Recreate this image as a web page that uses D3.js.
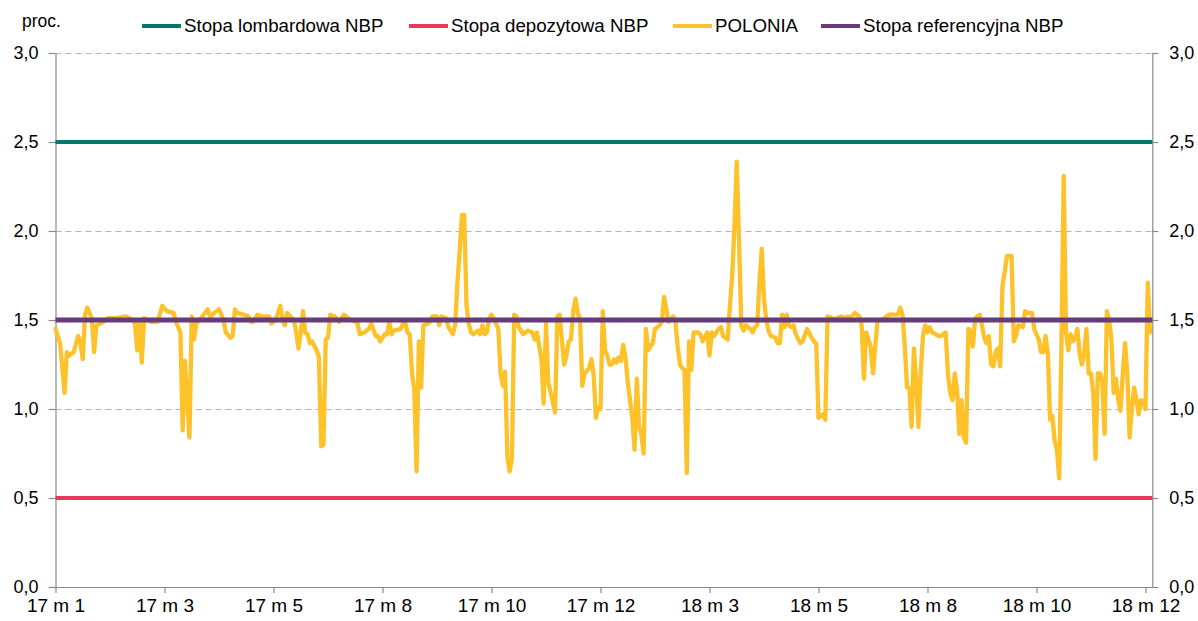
<!DOCTYPE html>
<html>
<head>
<meta charset="utf-8">
<script src="https://cdn.jsdelivr.net/npm/d3@7"></script>
<style>
  html, body { margin: 0; padding: 0; background: #fff; }
  svg text { font-family: "Liberation Sans", Arial, sans-serif; fill: #000; }
</style>
</head>
<body>
<svg id="chart" width="1198" height="621"></svg>
<script>
// ---- data ----
const xTickDays = [0, 48, 96, 144, 192, 240, 288, 336, 384, 432, 480];
const xTickLabels = ["17 m 1", "17 m 3", "17 m 5", "17 m 8", "17 m 10", "17 m 12",
                     "18 m 3", "18 m 5", "18 m 8", "18 m 10", "18 m 12"];
const yTicks = [0, 0.5, 1.0, 1.5, 2.0, 2.5, 3.0];
const seriesNames = ["Stopa lombardowa NBP", "Stopa depozytowa NBP", "POLONIA", "Stopa referencyjna NBP"];
const rateDays = [0, 482];
const lombardRate = [2.5, 2.5];
const depositRate = [0.5, 0.5];
const referenceRate = [1.5, 1.5];
// POLONIA: trading-day index and value (proc.)
const poloniaDays = [0,2,4,5,6,8,10,11,12,13,14,16,17,18,20,23,27,31,34,35,36,37,38,39,42,45,47,49,52,53,55,56,57,59,60,61,62,64,67,68,70,72,74,75,77,78,79,80,83,85,86,87,89,91,94,95,97,99,100,101,102,105,106,107,108,109,110,111,112,113,115,116,117,118,119,120,121,123,125,127,130,131,133,134,136,138,139,141,142,143,145,146,147,148,149,152,153,154,155,156,157,158,159,160,161,162,164,165,166,168,169,170,172,173,175,176,177,178,179,180,181,182,183,184,186,187,188,189,190,191,192,194,195,196,197,198,199,200,201,202,203,204,206,208,210,211,212,214,215,216,217,219,220,221,222,223,224,225,226,227,228,229,230,231,232,233,235,236,237,238,239,240,241,242,243,244,245,246,247,248,249,250,251,252,254,255,256,257,258,259,260,261,263,264,266,267,268,269,270,272,273,274,275,276,277,278,279,280,281,283,284,285,287,288,289,290,292,293,294,296,297,298,299,300,301,302,303,304,306,307,308,309,310,311,312,313,314,315,317,318,319,320,321,322,323,324,325,326,328,329,331,333,334,335,336,338,339,340,342,343,344,346,348,349,350,352,354,355,356,357,359,360,362,364,367,371,372,373,374,375,376,377,378,379,380,381,382,383,384,385,386,389,390,392,393,394,395,396,397,398,399,400,401,402,403,404,405,406,407,408,409,410,411,412,413,414,415,416,417,418,419,421,422,423,424,426,427,428,430,431,433,434,435,436,437,438,439,440,441,442,443,444,445,446,447,448,449,450,451,452,453,454,455,456,457,458,459,460,461,462,463,464,465,466,467,468,469,470,471,472,473,474,475,476,477,478,479,480,481,482];
const poloniaValues = [1.45,1.37,1.09,1.32,1.30,1.32,1.41,1.37,1.28,1.53,1.57,1.51,1.32,1.47,1.48,1.51,1.51,1.52,1.50,1.48,1.33,1.50,1.26,1.51,1.49,1.49,1.58,1.55,1.54,1.49,1.43,0.88,1.27,0.84,1.52,1.39,1.48,1.51,1.56,1.52,1.54,1.56,1.50,1.43,1.40,1.41,1.56,1.54,1.53,1.52,1.49,1.49,1.53,1.52,1.52,1.48,1.50,1.58,1.50,1.47,1.54,1.50,1.43,1.34,1.43,1.55,1.43,1.42,1.37,1.38,1.33,1.29,0.79,0.80,1.39,1.40,1.53,1.52,1.49,1.53,1.50,1.50,1.48,1.42,1.43,1.45,1.48,1.41,1.41,1.38,1.42,1.42,1.49,1.42,1.44,1.45,1.48,1.49,1.43,1.42,1.20,1.11,0.65,1.38,1.12,1.47,1.48,1.49,1.52,1.52,1.47,1.52,1.51,1.46,1.42,1.47,1.71,1.89,2.09,2.09,1.58,1.48,1.43,1.42,1.44,1.42,1.47,1.42,1.43,1.51,1.53,1.48,1.45,1.20,1.13,1.21,0.73,0.65,0.72,1.53,1.52,1.46,1.42,1.44,1.43,1.39,1.43,1.28,1.03,1.48,1.15,1.04,0.98,1.52,1.53,1.39,1.25,1.30,1.38,1.39,1.55,1.62,1.54,1.50,1.13,1.20,1.23,1.28,1.19,0.95,1.01,1.00,1.55,1.33,1.30,1.25,1.25,1.28,1.26,1.29,1.27,1.36,1.29,1.15,0.95,0.77,1.17,0.90,0.86,0.75,1.45,1.33,1.37,1.45,1.47,1.49,1.63,1.56,1.49,1.52,1.49,1.35,1.25,1.23,1.22,0.64,1.38,1.22,1.43,1.43,1.42,1.38,1.43,1.30,1.43,1.41,1.45,1.46,1.41,1.39,1.58,1.75,2.03,2.39,1.95,1.47,1.44,1.47,1.45,1.43,1.46,1.47,1.71,1.90,1.62,1.50,1.44,1.41,1.40,1.37,1.37,1.53,1.46,1.53,1.47,1.46,1.47,1.42,1.37,1.38,1.45,1.40,1.38,1.37,0.95,0.97,0.94,1.52,1.51,1.50,1.51,1.52,1.51,1.52,1.51,1.54,1.52,1.47,1.17,1.43,1.35,1.20,1.50,1.50,1.53,1.53,1.57,1.53,1.35,1.12,1.12,0.90,1.34,1.16,0.90,1.20,1.41,1.47,1.43,1.46,1.43,1.41,1.41,1.43,1.20,1.09,1.05,1.20,1.11,0.86,1.05,0.84,0.81,1.45,1.44,1.35,1.51,1.52,1.53,1.47,1.40,1.37,1.41,1.25,1.24,1.32,1.34,1.24,1.69,1.77,1.86,1.86,1.38,1.41,1.47,1.46,1.55,1.54,1.54,1.45,1.39,1.32,1.32,1.41,1.31,0.94,0.96,0.82,0.77,0.61,1.38,2.31,1.43,1.33,1.42,1.38,1.40,1.45,1.31,1.25,1.32,1.45,1.20,1.20,1.09,0.72,1.20,1.20,1.15,0.86,1.55,1.50,1.39,1.09,1.17,1.05,0.99,1.20,1.37,1.20,0.84,1.00,1.12,1.05,0.97,1.05,1.04,1.00,1.71,1.43];

// ---- drawing ----
const svg = d3.select("#chart");
const colors = ["#00796B", "#E8385B", "#FDC12A", "#673B7C"];
const x = d3.scaleLinear().domain([0, 483]).range([55.5, 1152.3]);
const y = d3.scaleLinear().domain([0, 3]).range([587, 53]);
const fmt = d => d3.format(".1f")(d).replace(".", ",");

// gridlines
svg.append("g").selectAll("line").data(yTicks.filter(v => v > 0)).join("line")
  .attr("x1", x(0)).attr("x2", x(483))
  .attr("y1", d => Math.round(y(d)) + 0.5).attr("y2", d => Math.round(y(d)) + 0.5)
  .attr("stroke", "#B5B5B5").attr("stroke-width", 1).attr("stroke-dasharray", "6,4");

const axisColor = "#8A8A8A";
function styleAxis(size) {
  return g => {
    g.selectAll("path.domain").attr("stroke", axisColor).attr("stroke-width", 1.2);
    g.selectAll(".tick line").attr("stroke", axisColor).attr("stroke-width", 1.2);
    g.selectAll(".tick text").style("font-size", size + "px").attr("fill", "#000");
  };
}
svg.append("g").attr("transform", `translate(${x(0)},0)`)
  .call(d3.axisLeft(y).tickValues(yTicks).tickFormat(fmt).tickSize(7).tickSizeOuter(0).tickPadding(10))
  .call(styleAxis(18));
svg.append("g").attr("transform", `translate(${x(483)},0)`)
  .call(d3.axisRight(y).tickValues(yTicks).tickFormat(fmt).tickSize(6).tickSizeOuter(0).tickPadding(11))
  .call(styleAxis(18));
svg.append("g").attr("transform", `translate(0,${y(0)})`)
  .call(d3.axisBottom(x).tickValues(xTickDays).tickFormat((d, i) => xTickLabels[i]).tickSize(6).tickSizeOuter(0).tickPadding(6))
  .call(styleAxis(19));

// series
const line = d3.line().x(d => x(d[0])).y(d => y(d[1]));
const series = [
  rateDays.map((d, i) => [d, lombardRate[i]]),
  rateDays.map((d, i) => [d, depositRate[i]]),
  poloniaDays.map((d, i) => [d, poloniaValues[i]]),
  rateDays.map((d, i) => [d, referenceRate[i]])
];
const widths = [4, 4, 4.3, 5];
series.forEach((s, i) => {
  const data = (i === 2) ? s : [[0, s[0][1]], [483, s[1][1]]];
  svg.append("path").datum(data)
    .attr("d", line).attr("fill", "none")
    .attr("stroke", colors[i]).attr("stroke-width", widths[i])
    .attr("stroke-linejoin", "round").attr("stroke-linecap", i === 2 ? "round" : "butt");
});

// unit label
svg.append("text").attr("x", 22).attr("y", 27).style("font-size", "17.5px").text("proc.");

// legend
const legendX = [142, 409, 673, 821];
const lg = svg.append("g");
seriesNames.forEach((n, i) => {
  lg.append("line").attr("x1", legendX[i]).attr("x2", legendX[i] + 39)
    .attr("y1", 26).attr("y2", 26).attr("stroke", colors[i]).attr("stroke-width", 4);
  lg.append("text").attr("x", legendX[i] + 42).attr("y", 32).style("font-size", "18.7px").text(n);
});
</script>
</body>
</html>
